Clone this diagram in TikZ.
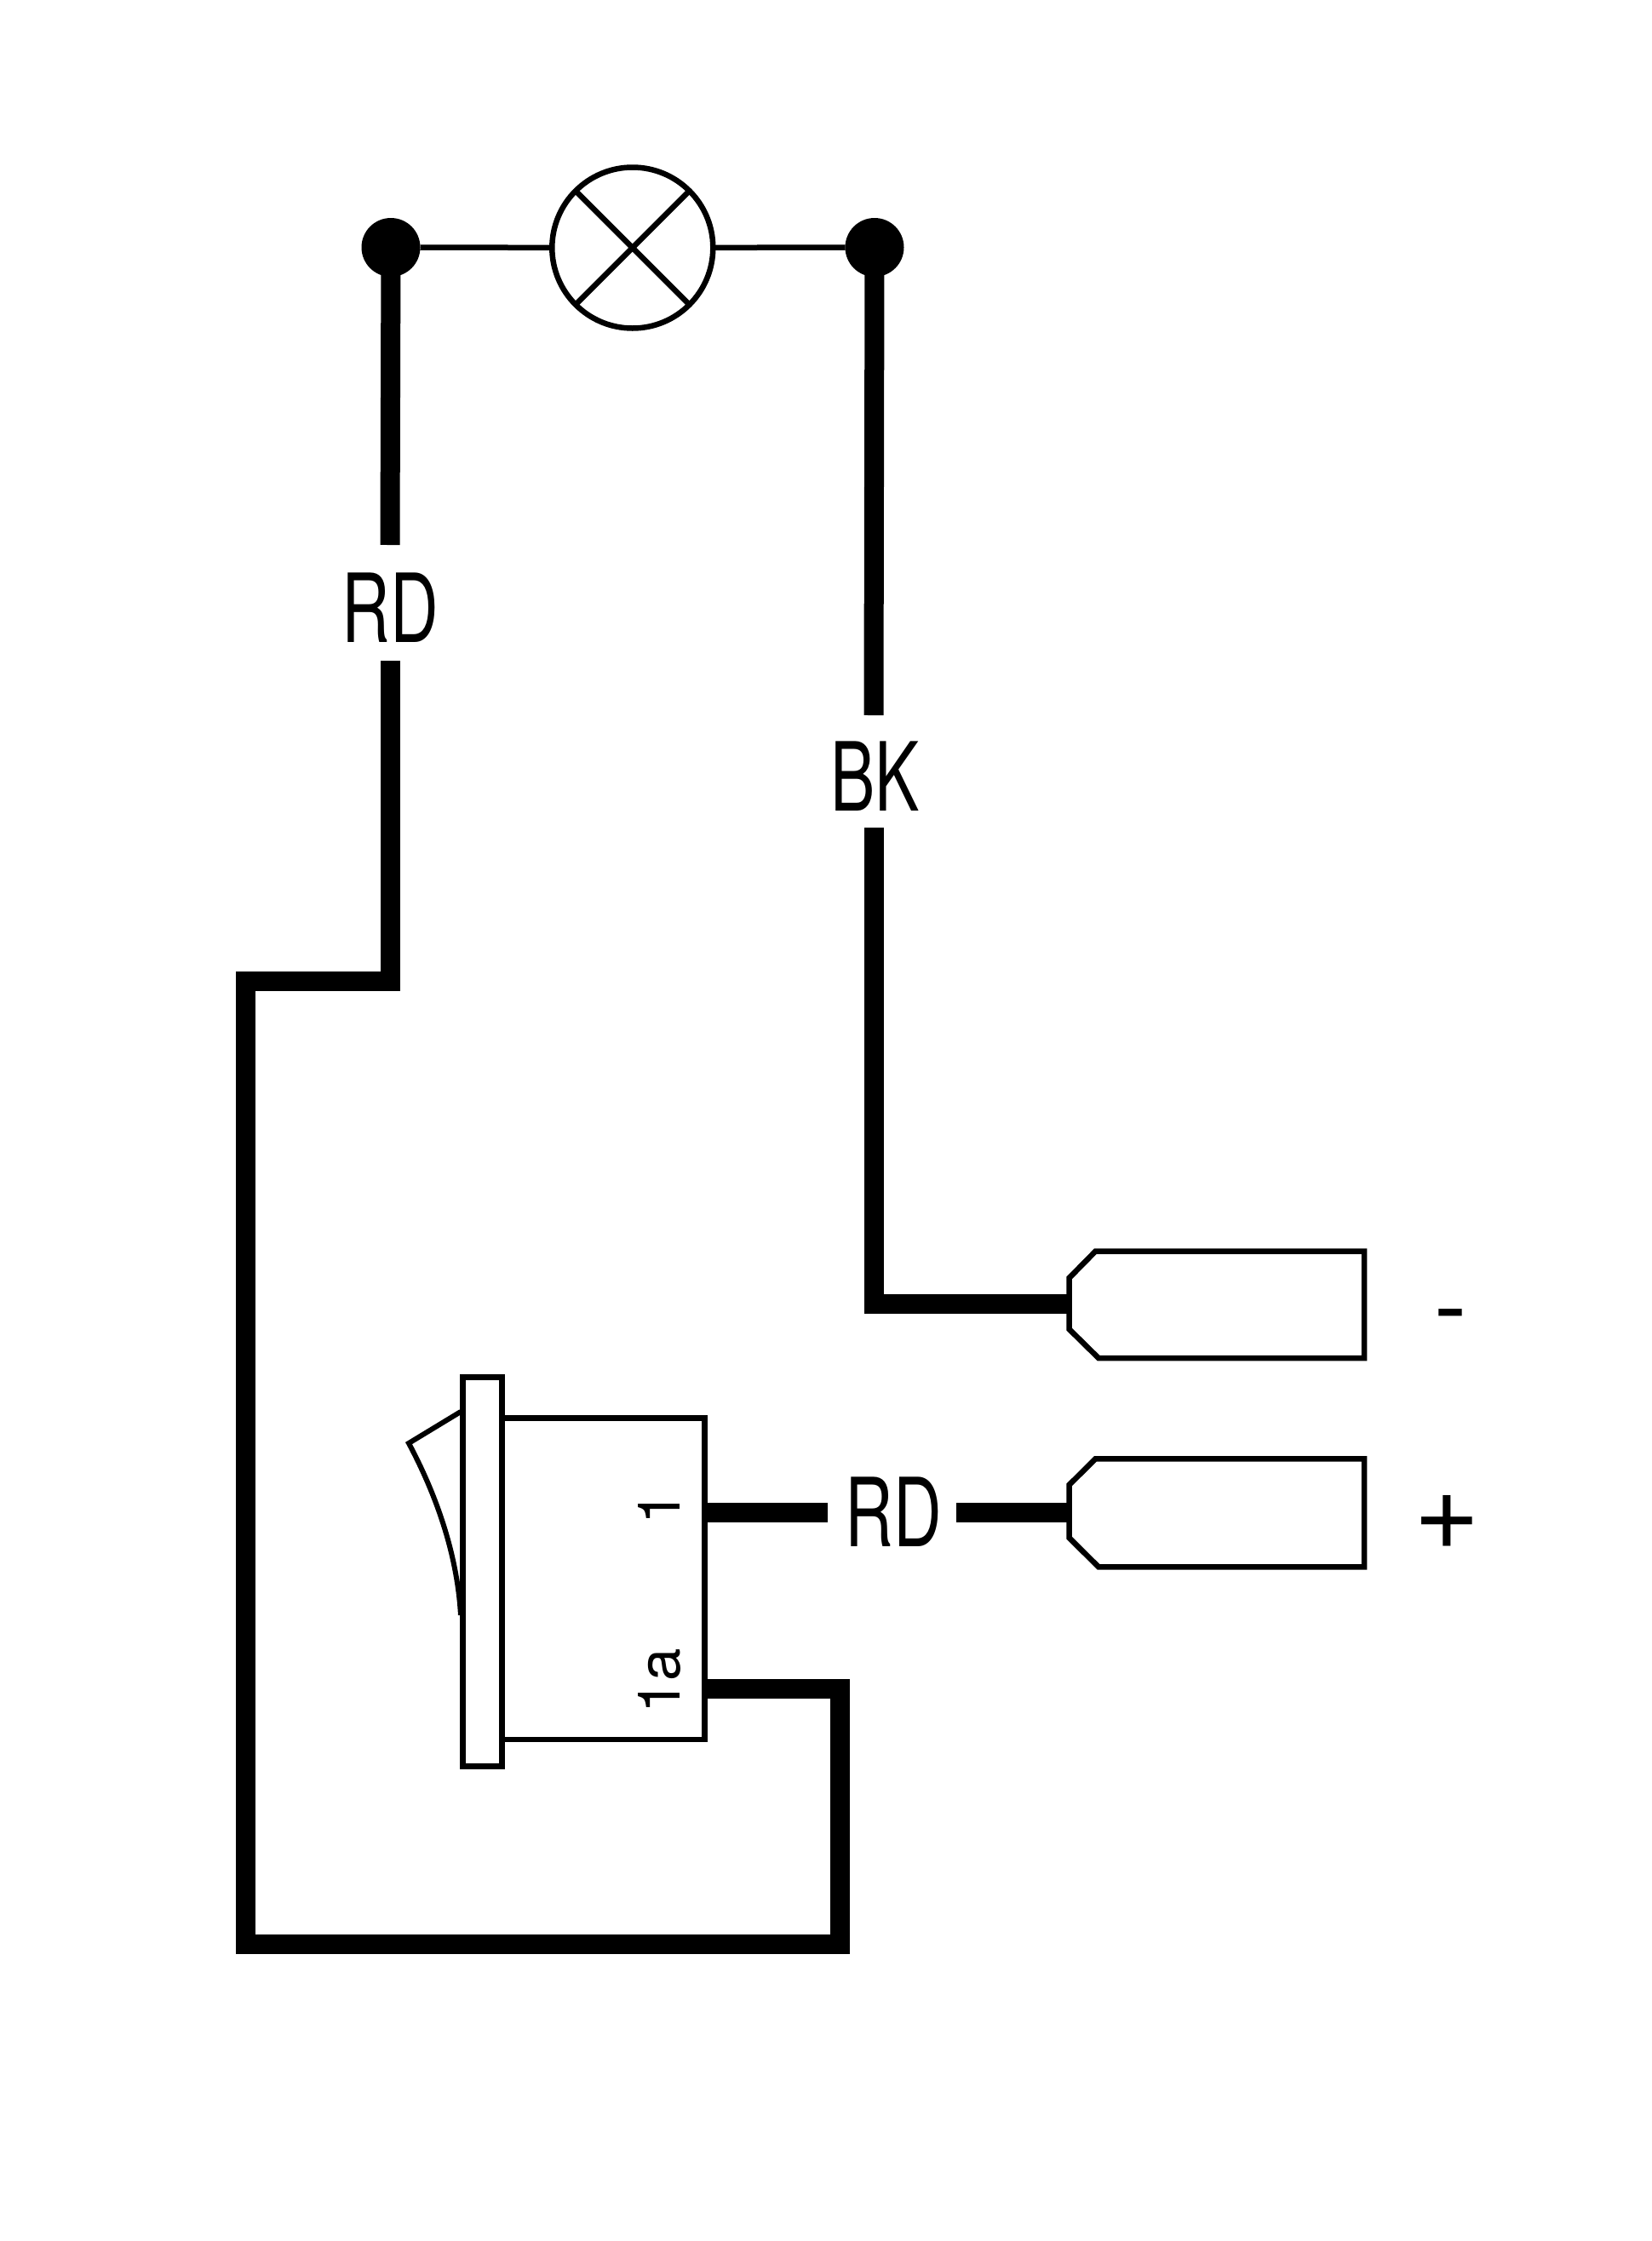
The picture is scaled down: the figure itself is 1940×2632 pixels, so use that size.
\documentclass[tikz,border=0pt]{standalone}
\usepackage{fontspec}
\setmainfont{TeX Gyre Heros}
\tikzset{
  wire/.style={line width=23pt,line cap=butt,line join=miter},
  thinw/.style={line width=6.5pt,line join=miter},
  dotn/.style={circle,fill=black,minimum size=69pt,inner sep=0pt,outer sep=0pt},
  lab/.style={inner sep=0pt,outer sep=0pt,font=\fontsize{112}{112}\selectfont,xscale=0.7,transform shape},
  sign/.style={inner sep=0pt,outer sep=0pt},
  pinlab/.style={inner sep=0pt,outer sep=0pt,font=\fontsize{69}{69}\selectfont,rotate=90,anchor=base,transform shape},
  boxn/.style={draw,rectangle,inner sep=0pt,outer sep=0pt,anchor=north west}
}
\begin{document}
\begin{tikzpicture}[x=1pt,y=-1pt]
\useasboundingbox (0,0) rectangle (1940,2632);
\fill[white] (0,0) rectangle (1940,2632);
% lamp
\node[draw,circle,line width=6.5pt,minimum size=189pt,inner sep=0pt,outer sep=0pt] (lamp) at (742.8,291) {};
\draw[thinw] (lamp.45) -- (lamp.225);
\draw[thinw] (lamp.135) -- (lamp.-45);
\node[dotn] (dl) at (459,290.5) {};
\node[dotn] (dr) at (1027,290.5) {};
\draw[thinw] (dl) -- (lamp);
\draw[thinw] (lamp) -- (dr);
% labels
\node[lab] (rd1) at (458.5,713.3) {RD};
\node[lab] (bk) at (1027.5,912) {BK};
\node[lab] (rd2) at (1049.3,1776) {RD};
\node[sign,font=\fontsize{115}{115}\selectfont] (minus) at (1704,1556) {-};
\node[sign,font=\fontsize{133}{133}\selectfont] (plus) at (1699,1788) {+};
% switch
\node[boxn,line width=6.5pt,minimum width=238pt,minimum height=377.5pt] (body) at (589.5,1665.5) {};
\node[boxn,fill=white,line width=7pt,minimum width=46pt,minimum height=457pt] (plate) at (543.5,1617.5) {};
\coordinate (rt) at (541,1658);
\coordinate (rb) at (541,1897);
\draw[line width=6pt,line join=miter] (rt) -- (480,1695) .. controls (512,1755) and (537,1825) .. (rb);
\node[pinlab] (p1) at (798,1771) {1};
\node[pinlab] (p1a) at (798,1974) {1a};
% connectors
\draw[thinw] (1286.5,1469.5) coordinate (c1t) -- (1602,1469.5) -- (1602,1595) -- (1290,1595) -- (1255.5,1561) -- (1255.5,1501) -- cycle;
\draw[thinw] (1286.5,1713.3) coordinate (c2t) -- (1602,1713.3) -- (1602,1840.3) -- (1290,1840.3) -- (1255.5,1806) -- (1255.5,1744) -- cycle;
\coordinate (c1w) at (1255.5,1531);
\coordinate (c2w) at (1255.5,1776.5);
% wires
\coordinate (rdA) at (458,640);
\coordinate (rdB) at (458,776);
\coordinate (bkA) at (1026,840);
\coordinate (bkB) at (1026,972);
\coordinate (s1) at (827.5,1776.5);
\coordinate (s1e) at (972,1776.5);
\coordinate (s2b) at (1123,1776.5);
\coordinate (s1a) at (827.5,1983);
\draw[wire] (dl.center) -- (rdA);
\draw[wire] (rdB) -- (458,1152.5) -- (288.5,1152.5) -- (288.5,2283) -- (986,2283) -- (986,1983) -- (s1a);
\draw[wire] (dr.center) -- (bkA);
\draw[wire] (bkB) -- (1026,1531) -- (c1w);
\draw[wire] (s1) -- (s1e);
\draw[wire] (s2b) -- (c2w);
\end{tikzpicture}
\end{document}
